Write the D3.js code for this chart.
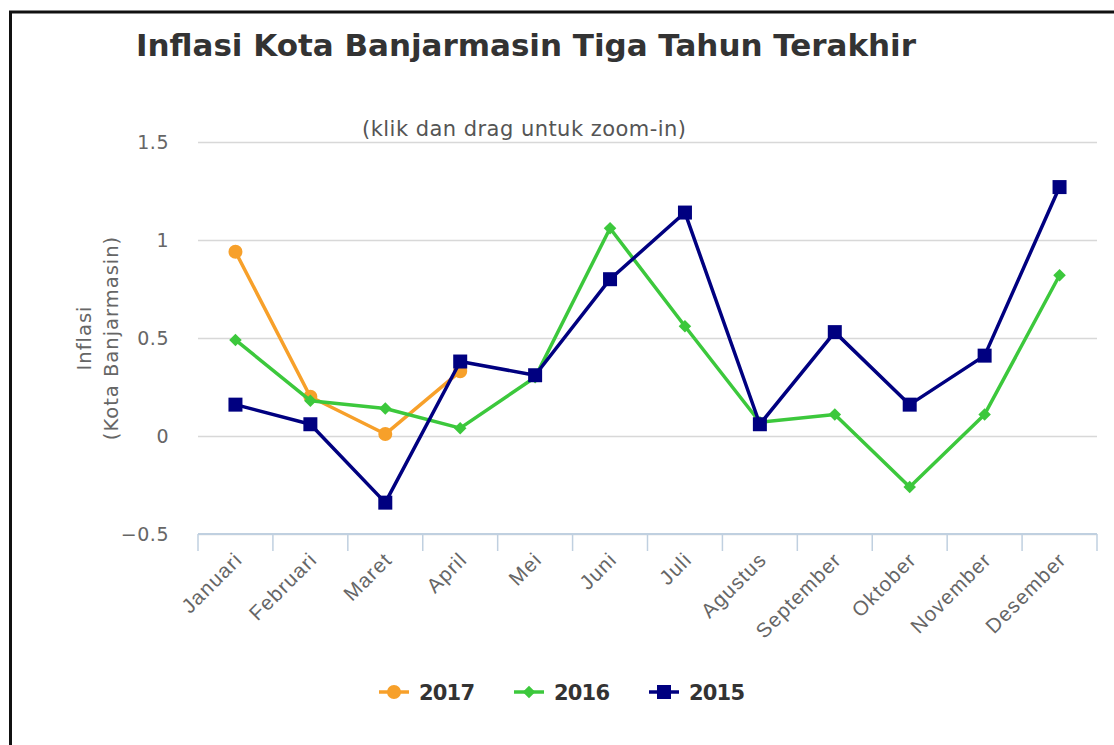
<!DOCTYPE html>
<html>
<head>
<meta charset="utf-8">
<script src="https://cdn.jsdelivr.net/npm/d3@7"></script>
<style>
  html, body { margin: 0; padding: 0; background: #fff; }
  svg { display: block; font-family: "DejaVu Sans", Verdana, sans-serif; }
</style>
</head>
<body>
<svg id="chart" width="1114" height="745"></svg>
<script>
// Monthly inflation, Kota Banjarmasin
const months = ["Januari", "Februari", "Maret", "April", "Mei", "Juni", "Juli",
  "Agustus", "September", "Oktober", "November", "Desember"];
const infl2017 = [0.94, 0.20, 0.01, 0.33];
const infl2016 = [0.49, 0.18, 0.14, 0.04, 0.30, 1.06, 0.56, 0.07, 0.11, -0.26, 0.11, 0.82];
const infl2015 = [0.16, 0.06, -0.34, 0.38, 0.31, 0.80, 1.14, 0.06, 0.53, 0.16, 0.41, 1.27];
const yTicks = [-0.5, 0, 0.5, 1, 1.5];
const seriesNames = ["2017", "2016", "2015"];

const series = [
  { name: seriesNames[0], values: infl2017, color: "#f7a02a", symbol: "circle" },
  { name: seriesNames[1], values: infl2016, color: "#3cc83c", symbol: "diamond" },
  { name: seriesNames[2], values: infl2015, color: "#000080", symbol: "square" }
];

const svg = d3.select("#chart");

// frame
svg.append("path")
  .attr("d", "M10.5,745 L10.5,12 L1114,12")
  .attr("fill", "none").attr("stroke", "#111").attr("stroke-width", 3);

const plot = { left: 198, right: 1097, top: 142, bottom: 534 };

const x = d3.scaleBand().domain(months).range([plot.left, plot.right]);
const y = d3.scaleLinear().domain([-0.5, 1.5]).range([plot.bottom, plot.top]);
const cx = m => x(m) + x.bandwidth() / 2;

// title and subtitle
svg.append("text")
  .attr("x", 136).attr("y", 56)
  .attr("font-weight", "bold").attr("font-size", 31)
  .attr("fill", "#333")
  .attr("textLength", 780).attr("lengthAdjust", "spacing")
  .text("Inflasi Kota Banjarmasin Tiga Tahun Terakhir");

svg.append("text")
  .attr("x", 362).attr("y", 136)
  .attr("font-size", 21).attr("fill", "#555")
  .attr("textLength", 324).attr("lengthAdjust", "spacing")
  .text("(klik dan drag untuk zoom-in)");

// horizontal grid
const yAxis = d3.axisLeft(y).tickValues(yTicks)
  .tickSize(-(plot.right - plot.left))
  .tickPadding(29)
  .tickFormat(d => d3.format("")(d).replace("-", "\u2212"));

const gy = svg.append("g").attr("transform", `translate(${plot.left},0)`).call(yAxis);
gy.select(".domain").remove();
gy.selectAll(".tick line").attr("stroke", "#d8d8d8").attr("stroke-width", 1.5);
gy.selectAll(".tick text").attr("font-size", 19).attr("fill", "#666")
  .attr("letter-spacing", 0.5)
  .attr("font-family", "DejaVu Sans, sans-serif");

// y axis title
const yTitle = svg.append("text")
  .attr("transform", `translate(97,${(plot.top + plot.bottom) / 2}) rotate(-90)`)
  .attr("text-anchor", "middle")
  .attr("font-size", 19.5).attr("fill", "#666");
yTitle.append("tspan").attr("x", 0).attr("dy", "-0.32em")
  .attr("letter-spacing", 1).text("Inflasi");
yTitle.append("tspan").attr("x", 0).attr("dy", "1.38em")
  .attr("letter-spacing", 1).text("(Kota Banjarmasin)");

// x axis
const xAxis = d3.axisBottom(x).tickSize(0).tickPadding(0);
const gx = svg.append("g").attr("transform", `translate(0,${plot.bottom})`).call(xAxis);
gx.select(".domain").attr("stroke", "#c0d0e0").attr("stroke-width", 2)
  .attr("d", `M${plot.left},0H${plot.right}`);
gx.selectAll(".tick line").remove();
// category boundary ticks
const bounds = months.map(m => x(m)).concat([plot.right]);
gx.selectAll(".bound").data(bounds).join("line")
  .attr("class", "bound")
  .attr("x1", d => d).attr("x2", d => d)
  .attr("y1", 0).attr("y2", 17)
  .attr("stroke", "#c0d0e0").attr("stroke-width", 1.5);
gx.selectAll(".tick text")
  .attr("font-size", 20.5).attr("fill", "#666")
  .attr("letter-spacing", 1.2)
  .attr("text-anchor", "end")
  .attr("dy", 0)
  .attr("transform", "translate(8,27) rotate(-45)");

// lines and markers
const line = d3.line().x((d, i) => cx(months[i])).y(d => y(d));
const symbolType = { circle: d3.symbolCircle, diamond: d3.symbolDiamond2, square: d3.symbolSquare };
const symbolSize = { circle: 154, diamond: 100, square: 196 };

// 2017 first, 2015 on top
series.forEach(s => {
  const g = svg.append("g");
  g.append("path").datum(s.values)
    .attr("d", line)
    .attr("fill", "none").attr("stroke", s.color)
    .attr("stroke-width", 3.5).attr("stroke-linejoin", "round");
  g.selectAll("path.mk").data(s.values).join("path")
    .attr("class", "mk")
    .attr("transform", (d, i) => `translate(${cx(months[i])},${y(d)})`)
    .attr("d", d3.symbol().type(symbolType[s.symbol]).size(symbolSize[s.symbol]))
    .attr("fill", s.color);
});

// legend
const legend = svg.append("g");
series.forEach((s, i) => {
  const lx = 379 + i * 135, ly = 692;
  const g = legend.append("g").attr("transform", `translate(${lx},${ly})`);
  g.append("line").attr("x1", 0).attr("x2", 30).attr("y1", 0).attr("y2", 0)
    .attr("stroke", s.color).attr("stroke-width", 3.5);
  g.append("path").attr("transform", "translate(15,0)")
    .attr("d", d3.symbol().type(symbolType[s.symbol]).size(symbolSize[s.symbol]))
    .attr("fill", s.color);
  g.append("text").attr("x", 40).attr("y", 0).attr("dy", "0.36em")
    .attr("font-size", 21).attr("font-weight", "bold").attr("fill", "#333")
    .attr("textLength", 56).attr("lengthAdjust", "spacing")
    .text(s.name);
});
</script>
</body>
</html>
